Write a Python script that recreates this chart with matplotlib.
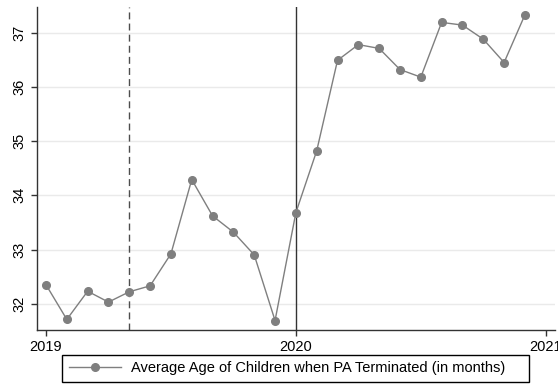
import numpy as np
import matplotlib
matplotlib.use("Agg")
import matplotlib.pyplot as plt

plt.rcParams['font.family'] = ['Liberation Sans', 'DejaVu Sans']

# monthly data, Jan 2019 .. Dec 2020
months = np.arange(24)
age = [32.35, 31.71, 32.23, 32.03, 32.22, 32.33, 32.92, 34.29, 33.62, 33.32,
       32.90, 31.69, 33.68, 34.82, 36.49, 36.78, 36.71, 36.32, 36.18, 37.19,
       37.14, 36.88, 36.45, 37.33]
xticks = [2019, 2020, 2021]
yticks = [32, 33, 34, 35, 36, 37]
label = "Average Age of Children when PA Terminated (in months)"
policy_dates = [2019 + 4 / 12, 2020]

t = 2019 + months / 12.0

fig = plt.figure(figsize=(5.58, 3.90), dpi=100)
ax = fig.add_axes([37 / 558, 60 / 390, 518 / 558, 323 / 390])

ax.set_xlim(2018.964, 2021.037)
ax.set_ylim(31.515, 37.474)

for y in yticks:
    ax.axhline(y, color="#eaeaea", lw=1, zorder=0)

ax.axvline(policy_dates[0], color="#4d4d4d", lw=1, ls=(0, (5, 3)), zorder=1)
ax.axvline(policy_dates[1], color="#333333", lw=1, zorder=1)

ax.plot(t, age, color="#7f7f7f", lw=1, marker="o", markersize=5.5,
        markerfacecolor="#7f7f7f", markeredgecolor="#7f7f7f", label=label, zorder=3)

ax.set_xticks(xticks)
ax.set_xticklabels([str(x) for x in xticks], fontsize=10.5)
ax.set_yticks(yticks)
ax.set_yticklabels([str(y) for y in yticks], fontsize=10.5, rotation=90, va="center")
ax.tick_params(axis="both", direction="out", length=4, width=1, color="#333333")

for s in ["top", "right"]:
    ax.spines[s].set_visible(False)
for s in ["left", "bottom"]:
    ax.spines[s].set_color("#333333")
    ax.spines[s].set_linewidth(1)

leg = fig.legend(loc="lower left", bbox_to_anchor=(55 / 558, 1 / 390, 481 / 558, 26 / 390),
                 mode="expand", fontsize=10.5, fancybox=False, edgecolor="black",
                 handlelength=3.6, handletextpad=0.65, borderpad=0.45, framealpha=1)
leg.get_frame().set_linewidth(1)

fig.savefig("out.png", dpi=100)
